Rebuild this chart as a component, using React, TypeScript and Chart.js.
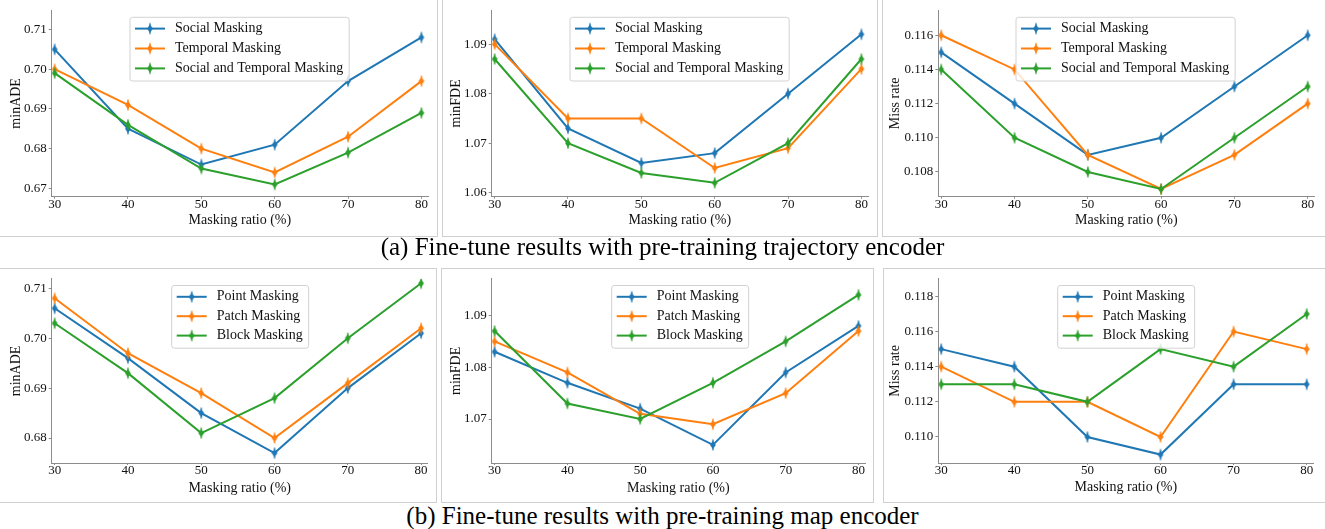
import React, { useEffect, useRef } from "react";
import { Chart, registerables } from "chart.js";

Chart.register(...registerables);

const FONT = "'Liberation Serif', 'Times New Roman', Times, serif";
const SPINE = "#8c8c8c";
const TEXT = "#111111";

// ---------- data ----------
const ratios = [30, 40, 50, 60, 70, 80];
const trajSeriesNames = ["Social Masking", "Temporal Masking", "Social and Temporal Masking"];
const mapSeriesNames = ["Point Masking", "Patch Masking", "Block Masking"];
const seriesColors = ["#1f77b4", "#ff7f0e", "#2ca02c"];

// (a) pre-training trajectory encoder
const trajMinADESocial = [0.705, 0.685, 0.676, 0.681, 0.697, 0.708];
const trajMinADETemporal = [0.7, 0.691, 0.68, 0.674, 0.683, 0.697];
const trajMinADEBoth = [0.699, 0.686, 0.675, 0.671, 0.679, 0.689];
const trajMinFDESocial = [1.091, 1.073, 1.066, 1.068, 1.08, 1.092];
const trajMinFDETemporal = [1.09, 1.075, 1.075, 1.065, 1.069, 1.085];
const trajMinFDEBoth = [1.087, 1.07, 1.064, 1.062, 1.07, 1.087];
const trajMRSocial = [0.115, 0.112, 0.109, 0.11, 0.113, 0.116];
const trajMRTemporal = [0.116, 0.114, 0.109, 0.107, 0.109, 0.112];
const trajMRBoth = [0.114, 0.11, 0.108, 0.107, 0.11, 0.113];

// (b) pre-training map encoder
const mapMinADEPoint = [0.706, 0.696, 0.685, 0.677, 0.69, 0.701];
const mapMinADEPatch = [0.708, 0.697, 0.689, 0.68, 0.691, 0.702];
const mapMinADEBlock = [0.703, 0.693, 0.681, 0.688, 0.7, 0.711];
const mapMinFDEPoint = [1.083, 1.077, 1.072, 1.065, 1.079, 1.088];
const mapMinFDEPatch = [1.085, 1.079, 1.071, 1.069, 1.075, 1.087];
const mapMinFDEBlock = [1.087, 1.073, 1.07, 1.077, 1.085, 1.094];
const mapMRPoint = [0.115, 0.114, 0.11, 0.109, 0.113, 0.113];
const mapMRPatch = [0.114, 0.112, 0.112, 0.11, 0.116, 0.115];
const mapMRBlock = [0.113, 0.113, 0.112, 0.115, 0.114, 0.117];

const xAxisTitle = "Masking ratio (%)";
const captionA = "(a) Fine-tune results with pre-training trajectory encoder";
const captionB = "(b) Fine-tune results with pre-training map encoder";

// ---------- layout (page coordinates) ----------
type Rect = { x: number; y: number; w: number; h: number };
type Area = { l: number; t: number; r: number; b: number };
type PanelCfg = {
  canvas: Rect;
  area: Area;
  yTitleX: number;
  xTitleY: number;
  yMin: number;
  yMax: number;
  step: number;
  dec: number;
  yTitle: string;
  names: string[];
  series: number[][];
  legend: { dx: number; dy: number; rowH: number };
};

const legendTop = { dx: 78.3, dy: 7.3, rowH: 19.9 };
const legendBottom = { dx: 120, dy: 6.7, rowH: 19.4 };

const panels: PanelCfg[] = [
  {
    canvas: { x: 0, y: 0, w: 436, h: 235 },
    area: { l: 51.7, t: 10, r: 428, b: 196.7 },
    yTitleX: 16.7, xTitleY: 220.7,
    yMin: 0.6679, yMax: 0.7149, step: 0.01, dec: 2, yTitle: "minADE",
    names: trajSeriesNames, series: [trajMinADESocial, trajMinADETemporal, trajMinADEBoth],
    legend: legendTop,
  },
  {
    canvas: { x: 443, y: 0, w: 434, h: 235 },
    area: { l: 491.7, t: 10, r: 868, b: 196.7 },
    yTitleX: 456.7, xTitleY: 220.7,
    yMin: 1.0592, yMax: 1.0969, step: 0.01, dec: 2, yTitle: "minFDE",
    names: trajSeriesNames, series: [trajMinFDESocial, trajMinFDETemporal, trajMinFDEBoth],
    legend: legendTop,
  },
  {
    canvas: { x: 883, y: 0, w: 442, h: 235 },
    area: { l: 938.3, t: 10, r: 1314.3, b: 196.7 },
    yTitleX: 895.8, xTitleY: 220.7,
    yMin: 0.10655, yMax: 0.11748, step: 0.002, dec: 3, yTitle: "Miss rate",
    names: trajSeriesNames, series: [trajMRSocial, trajMRTemporal, trajMRBoth],
    legend: { dx: 77.7, dy: 7.3, rowH: 19.9 },
  },
  {
    canvas: { x: 0, y: 269, w: 435, h: 232 },
    area: { l: 51.7, t: 277, r: 427.7, b: 463 },
    yTitleX: 16.7, xTitleY: 488,
    yMin: 0.675, yMax: 0.7119, step: 0.01, dec: 2, yTitle: "minADE",
    names: mapSeriesNames, series: [mapMinADEPoint, mapMinADEPatch, mapMinADEBlock],
    legend: legendBottom,
  },
  {
    canvas: { x: 442, y: 269, w: 430, h: 232 },
    area: { l: 491.7, t: 277, r: 867.7, b: 463 },
    yTitleX: 456.7, xTitleY: 488,
    yMin: 1.0615, yMax: 1.0971, step: 0.01, dec: 2, yTitle: "minFDE",
    names: mapSeriesNames, series: [mapMinFDEPoint, mapMinFDEPatch, mapMinFDEBlock],
    legend: legendBottom,
  },
  {
    canvas: { x: 884, y: 269, w: 441, h: 232 },
    area: { l: 938.3, t: 277, r: 1313.3, b: 463 },
    yTitleX: 895.8, xTitleY: 487.5,
    yMin: 0.10852, yMax: 0.119, step: 0.002, dec: 3, yTitle: "Miss rate",
    names: mapSeriesNames, series: [mapMRPoint, mapMRPatch, mapMRBlock],
    legend: { dx: 119.4, dy: 6.7, rowH: 19.4 },
  },
];

const frames = [
  { x1: -1, y1: -1, x2: 437, y2: 236 },
  { x1: 442, y1: -1, x2: 877, y2: 236 },
  { x1: 882, y1: -1, x2: 1326, y2: 236 },
  { x1: -1, y1: 268, x2: 436, y2: 502 },
  { x1: 441, y1: 268, x2: 873, y2: 502 },
  { x1: 883, y1: 268, x2: 1326, y2: 502 },
];

const captions = [
  { text: captionA, top: 233.6 },
  { text: captionB, top: 502.6 },
];

// ---------- marker (thin diamond with a short error bar) ----------
function makeMarker(color: string): HTMLCanvasElement {
  const c = document.createElement("canvas");
  c.width = 10;
  c.height = 14;
  const g = c.getContext("2d")!;
  g.strokeStyle = color;
  g.lineWidth = 1.3;
  g.beginPath();
  g.moveTo(5, 1.5);
  g.lineTo(5, 12.5);
  g.stroke();
  g.fillStyle = color;
  g.beginPath();
  g.moveTo(5, 2.8);
  g.lineTo(7.9, 7);
  g.lineTo(5, 11.2);
  g.lineTo(2.1, 7);
  g.closePath();
  g.fill();
  return c;
}

// ---------- overlay legend plugin (matplotlib-style box inside the axes) ----------
const overlayLegend = {
  id: "overlayLegend",
  afterDatasetsDraw(chart: any, _args: any, opts: any) {
    if (!opts || opts.dx === undefined) return;
    const { ctx, chartArea } = chart;
    const ds = chart.data.datasets;
    ctx.save();
    ctx.font = `14px ${FONT}`;
    let tw = 0;
    ds.forEach((d: any) => {
      tw = Math.max(tw, ctx.measureText(d.label).width);
    });
    const x0 = chartArea.left + opts.dx;
    const y0 = chartArea.top + opts.dy;
    const padTop = 11.3;
    const padBottom = 12.6;
    const w = 5 + 30 + 10 + tw + 6;
    const h = padTop + (ds.length - 1) * opts.rowH + padBottom;
    const r = 2.5;
    ctx.beginPath();
    ctx.moveTo(x0 + r, y0);
    ctx.lineTo(x0 + w - r, y0);
    ctx.arcTo(x0 + w, y0, x0 + w, y0 + r, r);
    ctx.lineTo(x0 + w, y0 + h - r);
    ctx.arcTo(x0 + w, y0 + h, x0 + w - r, y0 + h, r);
    ctx.lineTo(x0 + r, y0 + h);
    ctx.arcTo(x0, y0 + h, x0, y0 + h - r, r);
    ctx.lineTo(x0, y0 + r);
    ctx.arcTo(x0, y0, x0 + r, y0, r);
    ctx.closePath();
    ctx.fillStyle = "rgba(255,255,255,0.8)";
    ctx.fill();
    ctx.strokeStyle = "#d2d2d2";
    ctx.lineWidth = 1;
    ctx.stroke();
    ds.forEach((d: any, i: number) => {
      const cy = y0 + padTop + i * opts.rowH;
      ctx.strokeStyle = d.borderColor;
      ctx.lineWidth = 2;
      ctx.beginPath();
      ctx.moveTo(x0 + 5, cy);
      ctx.lineTo(x0 + 35, cy);
      ctx.stroke();
      const img = d.pointStyle as HTMLCanvasElement;
      ctx.drawImage(img, x0 + 20 - img.width / 2, cy - img.height / 2, img.width, img.height);
      ctx.fillStyle = TEXT;
      ctx.textAlign = "left";
      ctx.textBaseline = "middle";
      ctx.fillText(d.label, x0 + 45, cy);
    });
    ctx.restore();
  },
};

function Panel({ cfg }: { cfg: PanelCfg }) {
  const ref = useRef<HTMLCanvasElement>(null);
  useEffect(() => {
    const { canvas, area } = cfg;
    const yW = area.l - canvas.x;
    const padTop = area.t - canvas.y;
    const padRight = canvas.x + canvas.w - area.r;
    const xH = canvas.y + canvas.h - area.b;
    const yTitlePad = cfg.yTitleX - canvas.x - 8.4;
    const xTitlePad = canvas.y + canvas.h - cfg.xTitleY - 8.4;
    const markers = seriesColors.map(makeMarker);

    const chart = new Chart(ref.current!, {
      type: "line",
      data: {
        datasets: cfg.series.map((vals, i) => ({
          label: cfg.names[i],
          data: ratios.map((x, j) => ({ x, y: vals[j] })),
          borderColor: seriesColors[i],
          backgroundColor: seriesColors[i],
          borderWidth: 2,
          pointStyle: markers[i] as any,
          pointRadius: 5,
          tension: 0,
          order: cfg.series.length - 1 - i,
        })),
      },
      options: {
        responsive: false,
        maintainAspectRatio: false,
        animation: false,
        layout: { padding: { left: 0, top: padTop, right: padRight, bottom: 0 } },
        plugins: {
          legend: { display: false },
          tooltip: { enabled: false },
          overlayLegend: cfg.legend,
        } as any,
        scales: {
          x: {
            type: "linear",
            min: 29.6,
            max: 80.9,
            afterFit: (s: any) => {
              s.height = xH;
            },
            grid: { drawOnChartArea: false, drawTicks: true, tickLength: 2, color: SPINE },
            border: { display: true, color: SPINE, width: 1 },
            ticks: {
              stepSize: 10,
              includeBounds: false,
              padding: -1,
              maxRotation: 0,
              autoSkip: false,
              color: TEXT,
              font: { family: FONT, size: 13, lineHeight: 1 },
            },
            title: {
              display: true,
              text: xAxisTitle,
              color: TEXT,
              font: { family: FONT, size: 14, lineHeight: 1.2 },
              padding: { top: 0, bottom: xTitlePad },
            },
          },
          y: {
            type: "linear",
            min: cfg.yMin,
            max: cfg.yMax,
            afterFit: (s: any) => {
              s.width = yW;
            },
            grid: { drawOnChartArea: false, drawTicks: true, tickLength: 3, color: SPINE },
            border: { display: true, color: SPINE, width: 1 },
            ticks: {
              stepSize: cfg.step,
              includeBounds: false,
              padding: 2,
              color: TEXT,
              font: { family: FONT, size: 13 },
              callback: (v: any) => Number(v).toFixed(cfg.dec),
            },
            title: {
              display: true,
              text: cfg.yTitle,
              color: TEXT,
              font: { family: FONT, size: 14, lineHeight: 1.2 },
              padding: { top: yTitlePad, bottom: 0 },
            },
          },
        },
      },
      plugins: [overlayLegend as any],
    });
    return () => chart.destroy();
  }, [cfg]);

  const { x, y, w, h } = cfg.canvas;
  return (
    <canvas
      ref={ref}
      width={w}
      height={h}
      style={{ position: "absolute", left: x, top: y, width: w, height: h }}
    />
  );
}

export default function App() {
  return (
    <div
      style={{
        position: "absolute",
        left: 0,
        top: 0,
        width: 1325,
        height: 529,
        background: "#ffffff",
        overflow: "hidden",
      }}
    >
      {frames.map((f, i) => (
        <div
          key={"f" + i}
          style={{
            position: "absolute",
            left: f.x1,
            top: f.y1,
            width: f.x2 - f.x1 + 1,
            height: f.y2 - f.y1 + 1,
            boxSizing: "border-box",
            border: "1px solid #d0d0d0",
          }}
        />
      ))}
      {panels.map((p, i) => (
        <Panel key={"p" + i} cfg={p} />
      ))}
      {captions.map((c, i) => (
        <div
          key={"c" + i}
          style={{
            position: "absolute",
            left: 0,
            width: 1325,
            top: c.top,
            textAlign: "center",
            fontFamily: FONT,
            fontSize: 25,
            lineHeight: "25px",
            color: "#000",
            whiteSpace: "nowrap",
          }}
        >
          {c.text}
        </div>
      ))}
    </div>
  );
}
